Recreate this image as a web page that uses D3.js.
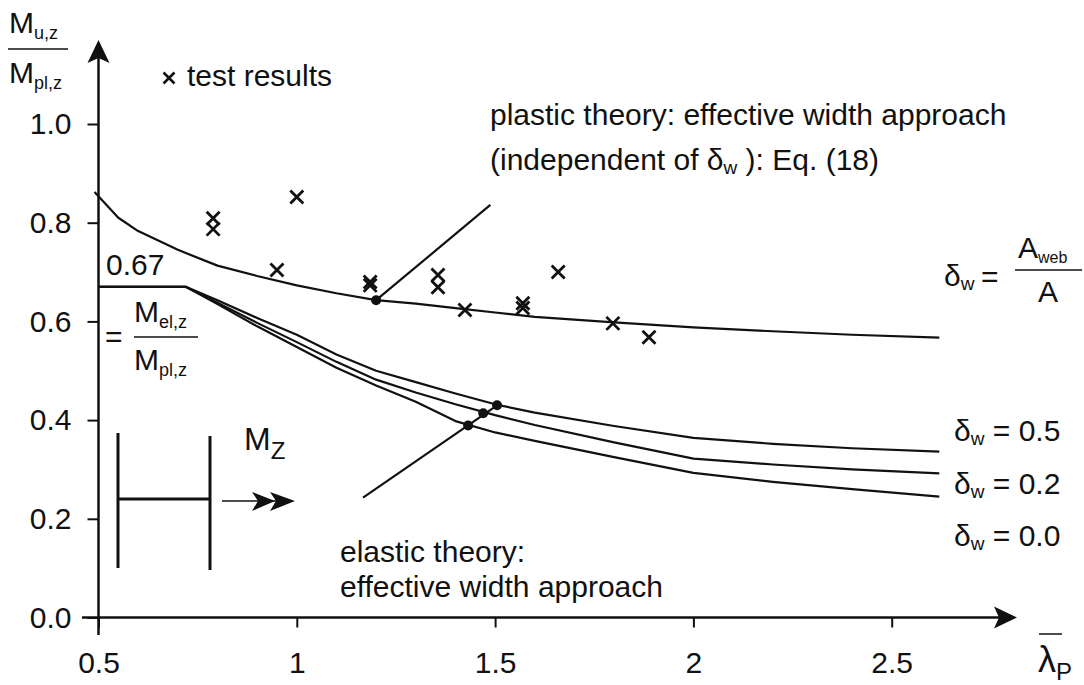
<!DOCTYPE html>
<html>
<head>
<meta charset="UTF-8">
<title>Mu,z / Mpl,z</title>
<script src="https://d3js.org/d3.v7.min.js"></script>
<style>
  body { margin: 0; background: #fff; }
  svg text { font-family: "Liberation Sans", Arial, sans-serif; fill: #111; }
</style>
</head>
<body>
<div id="chart"></div>
<script>
// tick labels
const xTicks = [0.5, 1, 1.5, 2, 2.5];
const xTickLabels = ["0.5", "1", "1.5", "2", "2.5"];
const yTicks = [0, 0.2, 0.4, 0.6, 0.8, 1.0];
const yTickLabels = ["0.0", "0.2", "0.4", "0.6", "0.8", "1.0"];

// plastic theory curve (Eq. 18)
const plasticLambda = [0.49, 0.55, 0.6, 0.7, 0.8, 0.9, 1.0, 1.1, 1.2, 1.3, 1.4, 1.5, 1.6, 1.8, 2.0, 2.2, 2.4, 2.62];
const plasticMu = [0.862, 0.81, 0.783, 0.745, 0.713, 0.692, 0.673, 0.657, 0.643, 0.636, 0.627, 0.618, 0.609, 0.598, 0.588, 0.58, 0.573, 0.567];

// elastic theory curves, one per delta_w
const elasticLambda = [0.5, 0.72, 0.8, 0.9, 1.0, 1.1, 1.2, 1.3, 1.4, 1.5, 1.6, 1.8, 2.0, 2.2, 2.4, 2.62];
const elastic05 = [0.67, 0.67, 0.643, 0.607, 0.573, 0.533, 0.5, 0.477, 0.454, 0.432, 0.415, 0.388, 0.364, 0.352, 0.343, 0.336];
const elastic02 = [0.67, 0.67, 0.638, 0.597, 0.558, 0.518, 0.482, 0.456, 0.432, 0.41, 0.39, 0.355, 0.322, 0.31, 0.3, 0.292];
const elastic00 = [0.67, 0.67, 0.635, 0.59, 0.548, 0.506, 0.47, 0.437, 0.398, 0.375, 0.358, 0.325, 0.293, 0.275, 0.26, 0.245];

// test results
const testLambda = [0.789, 0.789, 0.95, 1.0, 1.185, 1.185, 1.356, 1.356, 1.424, 1.57, 1.57, 1.659, 1.797, 1.888];
const testMu = [0.809, 0.787, 0.704, 0.852, 0.680, 0.673, 0.694, 0.669, 0.623, 0.637, 0.627, 0.700, 0.596, 0.568];

// annotation pointers
const plasticDot = [1.2, 0.643];
const plasticPointerEnd = [1.488, 0.836];
const elasticDots = [[1.432, 0.389], [1.47, 0.414], [1.505, 0.430]];
const elasticPointerEnd = [1.167, 0.243];

const width = 1084, height = 685;
const svg = d3.select("#chart").append("svg")
  .attr("width", width).attr("height", height);

const x = d3.scaleLinear().domain([0.5, 2.5]).range([98.5, 891.7]);
const y = d3.scaleLinear().domain([0, 1]).range([617.5, 124]);

const fs = 30;

// axes
svg.append("g")
  .attr("transform", `translate(0,${y(0)})`)
  .call(d3.axisBottom(x).tickValues(xTicks).tickFormat((d, i) => xTickLabels[i])
    .tickSize(10).tickPadding(24))
  .call(g => g.select(".domain").remove())
  .call(g => g.selectAll("line").attr("stroke", "#111").attr("stroke-width", 2))
  .call(g => g.selectAll("text").attr("font-size", fs).attr("font-family", null));

svg.append("g")
  .attr("transform", `translate(${x(0.5)},0)`)
  .call(d3.axisLeft(y).tickValues(yTicks).tickFormat((d, i) => yTickLabels[i])
    .tickSize(11).tickPadding(16))
  .call(g => g.select(".domain").remove())
  .call(g => g.selectAll("line").attr("stroke", "#111").attr("stroke-width", 2))
  .call(g => g.selectAll("text").attr("font-size", fs).attr("font-family", null));

// axis lines with arrow heads
svg.append("line").attr("x1", 82).attr("x2", 1000).attr("y1", y(0)).attr("y2", y(0))
  .attr("stroke", "#111").attr("stroke-width", 2.5);
svg.append("path").attr("d", `M1017,${y(0)} L994,${y(0) - 11} L999,${y(0)} L994,${y(0) + 11} Z`).attr("fill", "#111");
svg.append("line").attr("x1", x(0.5)).attr("x2", x(0.5)).attr("y1", 635).attr("y2", 55)
  .attr("stroke", "#111").attr("stroke-width", 2.5);
svg.append("path").attr("d", `M${x(0.5)},40 L${x(0.5) - 11},63 L${x(0.5)},58 L${x(0.5) + 11},63 Z`).attr("fill", "#111");

// curves
const line = d3.line().x(d => x(d[0])).y(d => y(d[1]));
const curves = [
  d3.zip(plasticLambda, plasticMu),
  d3.zip(elasticLambda, elastic05),
  d3.zip(elasticLambda, elastic02),
  d3.zip(elasticLambda, elastic00)
];
svg.selectAll(".curve").data(curves).enter().append("path")
  .attr("class", "curve")
  .attr("d", line)
  .attr("fill", "none").attr("stroke", "#111").attr("stroke-width", 2.2)
  .attr("stroke-linejoin", "round");

// pointer lines + dots
svg.append("path").attr("d", line([plasticDot, plasticPointerEnd]))
  .attr("stroke", "#111").attr("stroke-width", 2.2);
svg.append("path").attr("d", line([elasticPointerEnd, elasticDots[2]]))
  .attr("stroke", "#111").attr("stroke-width", 2.2);
svg.selectAll(".dot").data([plasticDot].concat(elasticDots)).enter().append("circle")
  .attr("class", "dot")
  .attr("cx", d => x(d[0])).attr("cy", d => y(d[1])).attr("r", 5).attr("fill", "#111");

// test results
const cross = s => `M${-s},${-s}L${s},${s}M${-s},${s}L${s},${-s}`;
svg.selectAll(".test").data(d3.zip(testLambda, testMu)).enter().append("path")
  .attr("class", "test")
  .attr("transform", d => `translate(${x(d[0])},${y(d[1])})`)
  .attr("d", cross(6.5))
  .attr("stroke", "#111").attr("stroke-width", 2.8).attr("fill", "none");

// legend
svg.append("path").attr("transform", "translate(169,78)").attr("d", cross(5.5))
  .attr("stroke", "#111").attr("stroke-width", 2.6);
svg.append("text").attr("x", 187).attr("y", 86).attr("font-size", fs).text("test results");

// y-axis title: M_u,z / M_pl,z
const ytitle = svg.append("g");
ytitle.append("text").attr("x", 9).attr("y", 33).attr("font-size", fs)
  .text("M").append("tspan").attr("font-size", 18).attr("dy", 6).text("u,z");
ytitle.append("line").attr("x1", 8).attr("x2", 68).attr("y1", 49).attr("y2", 49)
  .attr("stroke", "#111").attr("stroke-width", 1.5);
ytitle.append("text").attr("x", 9).attr("y", 83).attr("font-size", fs)
  .text("M").append("tspan").attr("font-size", 18).attr("dy", 6).text("pl,z");

// x-axis title: lambda_P with bar
svg.append("text").attr("x", 1038).attr("y", 672).attr("font-size", 36).text("λ")
  .append("tspan").attr("font-size", 24).attr("dy", 8).text("P");
svg.append("line").attr("x1", 1039).attr("x2", 1062).attr("y1", 634).attr("y2", 634)
  .attr("stroke", "#111").attr("stroke-width", 1.5);

// 0.67 = M_el,z / M_pl,z
svg.append("text").attr("x", 106).attr("y", 275).attr("font-size", fs).text("0.67");
svg.append("text").attr("x", 105).attr("y", 347).attr("font-size", fs).text("=");
svg.append("text").attr("x", 134).attr("y", 322).attr("font-size", fs)
  .text("M").append("tspan").attr("font-size", 18).attr("dy", 6).text("el,z");
svg.append("line").attr("x1", 134).attr("x2", 198).attr("y1", 337).attr("y2", 337)
  .attr("stroke", "#111").attr("stroke-width", 1.5);
svg.append("text").attr("x", 134).attr("y", 370).attr("font-size", fs)
  .text("M").append("tspan").attr("font-size", 18).attr("dy", 6).text("pl,z");

// plastic theory annotation
svg.append("text").attr("x", 490).attr("y", 125).attr("font-size", fs)
  .text("plastic theory: effective width approach");
const ind = svg.append("text").attr("x", 490).attr("y", 170).attr("font-size", fs);
ind.append("tspan").text("(independent of ");
ind.append("tspan").text("δ");
ind.append("tspan").attr("font-size", 19).attr("dy", 4).text("w");
ind.append("tspan").attr("dy", -4).text(" ): Eq. (18)");

// elastic theory annotation
svg.append("text").attr("x", 340).attr("y", 562).attr("font-size", fs).text("elastic theory:");
svg.append("text").attr("x", 340).attr("y", 597).attr("font-size", fs).text("effective width approach");

// delta_w = A_web / A
const dA = svg.append("text").attr("x", 944).attr("y", 286).attr("font-size", fs);
dA.append("tspan").text("δ");
dA.append("tspan").attr("font-size", 19).attr("dy", 4).text("w");
svg.append("text").attr("x", 981).attr("y", 287).attr("font-size", fs).text("=");
svg.append("text").attr("x", 1018).attr("y", 258).attr("font-size", fs)
  .text("A").append("tspan").attr("font-size", 16).attr("dy", 5).text("web");
svg.append("line").attr("x1", 1015).attr("x2", 1082).attr("y1", 270).attr("y2", 270)
  .attr("stroke", "#111").attr("stroke-width", 1.5);
svg.append("text").attr("x", 1048).attr("y", 302).attr("font-size", fs)
  .attr("text-anchor", "middle").text("A");

// delta_w curve labels
const deltaLabels = ["0.5", "0.2", "0.0"];
const deltaBaselines = [441, 494, 546];
deltaLabels.forEach((v, i) => {
  const t = svg.append("text").attr("x", 954).attr("y", deltaBaselines[i]).attr("font-size", fs);
  t.append("tspan").text("δ");
  t.append("tspan").attr("font-size", 19).attr("dy", 4).text("w");
  t.append("tspan").attr("dy", -4).text(" = " + v);
});

// I-section sketch with moment arrow M_z
const sk = svg.append("g").attr("stroke", "#111").attr("fill", "none");
sk.append("line").attr("x1", 118).attr("x2", 118).attr("y1", 433).attr("y2", 568).attr("stroke-width", 3);
sk.append("line").attr("x1", 210).attr("x2", 210).attr("y1", 436).attr("y2", 570).attr("stroke-width", 3);
sk.append("line").attr("x1", 118).attr("x2", 210).attr("y1", 499).attr("y2", 499).attr("stroke-width", 3);
sk.append("line").attr("x1", 222).attr("x2", 290).attr("y1", 501).attr("y2", 501).attr("stroke-width", 1.5);
svg.append("path").attr("d", "M252,492 L275,501 L252,511 L258,501 Z M270,492 L295,501 L270,511 L276,501 Z").attr("fill", "#111");
svg.append("text").attr("x", 244).attr("y", 450).attr("font-size", 32)
  .text("M").append("tspan").attr("font-size", 24).attr("dy", 9).text("Z");
</script>
</body>
</html>
